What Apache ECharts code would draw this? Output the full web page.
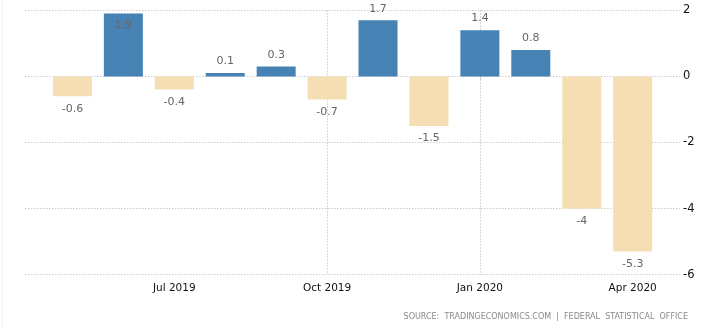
<!DOCTYPE html>
<html>
<head>
<meta charset="utf-8">
<script src="https://cdn.jsdelivr.net/npm/echarts@6/dist/echarts.min.js"></script>
<style>
html,body{margin:0;padding:0;background:#fff;}
#chart{width:724px;height:327px;}
</style>
</head>
<body>
<div id="chart"></div>
<script>
// Months shown (axis position: Apr 2019 = 0, May 2019 = 1, ...)
const months = ['May 2019','Jun 2019','Jul 2019','Aug 2019','Sep 2019','Oct 2019','Nov 2019','Dec 2019','Jan 2020','Feb 2020','Mar 2020','Apr 2020'];
const values = [-0.6, 1.9, -0.4, 0.1, 0.3, -0.7, 1.7, -1.5, 1.4, 0.8, -4, -5.3];
const xTickValues = [3, 6, 9, 12];
const xTickLabels = ['Jul 2019', 'Oct 2019', 'Jan 2020', 'Apr 2020'];
const yTicks = [-6, -4, -2, 0, 2];
const sourceText = 'SOURCE:  TRADINGECONOMICS.COM  |  FEDERAL  STATISTICAL  OFFICE';

const BLUE = '#4682B4';
const WHEAT = '#F5DEB3';
const FONT = 'DejaVu Sans';

const chart = echarts.init(document.getElementById('chart'), null, {renderer: 'canvas'});

const barData = values.map((v, i) => {
  const pos = v > 1.8 ? 'insideTop' : (v >= 0 ? 'top' : 'bottom');
  return {
    value: [i + 1, v],
    itemStyle: {color: v >= 0 ? BLUE : WHEAT},
    label: {position: pos, distance: v >= 0 ? 6 : 7}
  };
});

const option = {
  animation: false,
  backgroundColor: '#fff',
  grid: [
    {left: 25, right: 44, top: 10.3, bottom: 52.3, containLabel: false},
    {left: 21.5, right: 40.4, top: 10.3, bottom: 52.3, containLabel: false}
  ],
  xAxis: [
    {gridIndex: 0, type: 'value', min: 0, max: 1, show: false},
    {
      gridIndex: 1, type: 'value', min: 0, max: 13, interval: 3,
      axisLine: {show: false},
      axisTick: {show: true, length: 4, lineStyle: {color: '#ccc'}, customValues: xTickValues},
      axisLabel: {
        color: '#111', fontFamily: FONT, fontSize: 10.5, margin: 8,
        customValues: xTickValues,
        formatter: function (v) {
          const k = xTickValues.indexOf(v);
          return k >= 0 ? xTickLabels[k] : '';
        }
      },
      splitLine: {show: true, showMinLine: false, showMaxLine: false, lineStyle: {color: '#ccc', type: [1.5, 1.5], width: 1}}
    }
  ],
  yAxis: [
    {
      gridIndex: 0, type: 'value', position: 'right', min: yTicks[0], max: yTicks[yTicks.length - 1], interval: 2,
      axisLine: {show: false}, axisTick: {show: false},
      axisLabel: {color: '#111', fontFamily: FONT, fontSize: 11.5, margin: 3},
      splitLine: {show: true, lineStyle: {color: '#ccc', type: [1.5, 1.5], width: 1}}
    },
    {
      gridIndex: 1, type: 'value', min: yTicks[0], max: yTicks[yTicks.length - 1], interval: 2,
      show: false, splitLine: {show: false}
    }
  ],
  graphic: [
    {
      type: 'text', right: 36, bottom: 6,
      style: {text: sourceText, fill: '#8a8a8a', font: '8px "DejaVu Sans"'}
    },
    {
      type: 'line', shape: {x1: 2.5, y1: 0, x2: 2.5, y2: 327},
      style: {stroke: '#f0f0f0', lineWidth: 1}
    }
  ],
  series: [
    {
      type: 'bar', xAxisIndex: 1, yAxisIndex: 1,
      barWidth: 39,
      data: barData,
      label: {
        show: true, color: '#666', fontFamily: FONT, fontSize: 11,
        formatter: p => String(p.value[1])
      }
    }
  ]
};
chart.setOption(option);
</script>
</body>
</html>
